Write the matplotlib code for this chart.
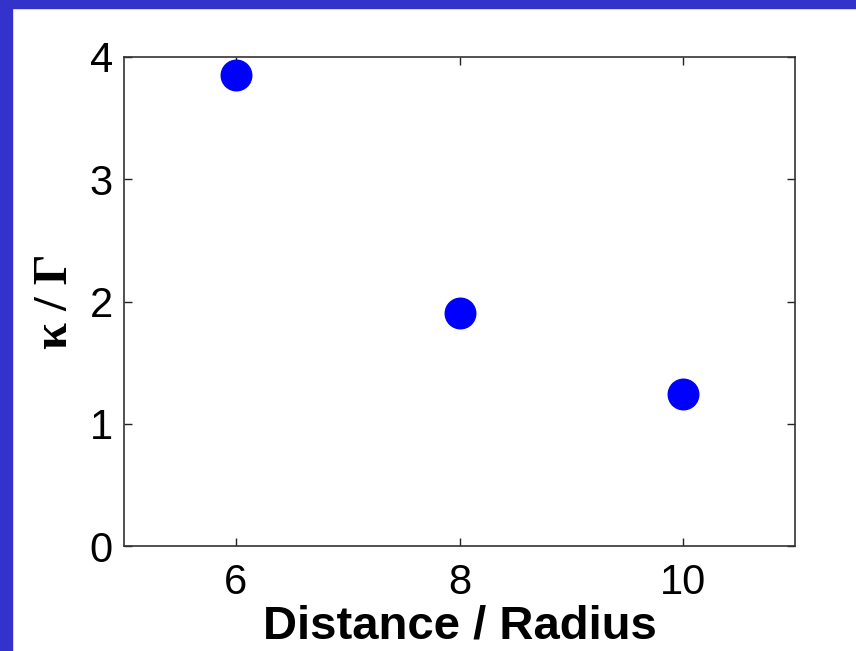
import matplotlib
matplotlib.use("Agg")
import matplotlib.pyplot as plt
from matplotlib.patches import Rectangle

# kappa / Gamma against separation (in units of radius)
distance = [6, 8, 10]
kappa_over_gamma = [3.85, 1.91, 1.24]

xticks = [6, 8, 10]
yticks = [0, 1, 2, 3, 4]

plt.rcParams['font.family'] = ['Liberation Sans', 'DejaVu Sans']

fig = plt.figure(figsize=(8.56, 6.51), dpi=100)
fig.patch.set_facecolor('white')
# blue slide border on left and top
fig.add_artist(Rectangle((0, 0), 12 / 856, 1, transform=fig.transFigure,
                         color='#3333cc', zorder=0))
fig.add_artist(Rectangle((0, 1 - 8 / 651), 1, 8 / 651, transform=fig.transFigure,
                         color='#3333cc', zorder=0))

ax = fig.add_axes([124 / 856, 1 - 546 / 651, (795 - 124) / 856, (546 - 57) / 651])
ax.plot(distance, kappa_over_gamma, 'o', color='#0000ff', markersize=22,
        markeredgecolor='#0000ff', clip_on=False)

ax.set_xlim(5, 11)
ax.set_ylim(0, 4)
ax.set_xticks(xticks)
ax.set_yticks(yticks)
ax.tick_params(direction='in', length=6, width=1, top=True, right=True,
               labelsize=30, color='#222222')
ax.tick_params(axis='x', pad=12)
ax.tick_params(axis='y', pad=8)
for s in ax.spines.values():
    s.set_color('#333333')
    s.set_linewidth(1.2)

ax.set_xlabel('Distance / Radius', fontsize=34, fontweight='bold', labelpad=1)
ax.set_ylabel('\u03ba / \u0393', fontsize=35, fontweight='bold',
              family=['Liberation Serif', 'DejaVu Serif'], labelpad=9)

fig.savefig('out.png', dpi=100)
